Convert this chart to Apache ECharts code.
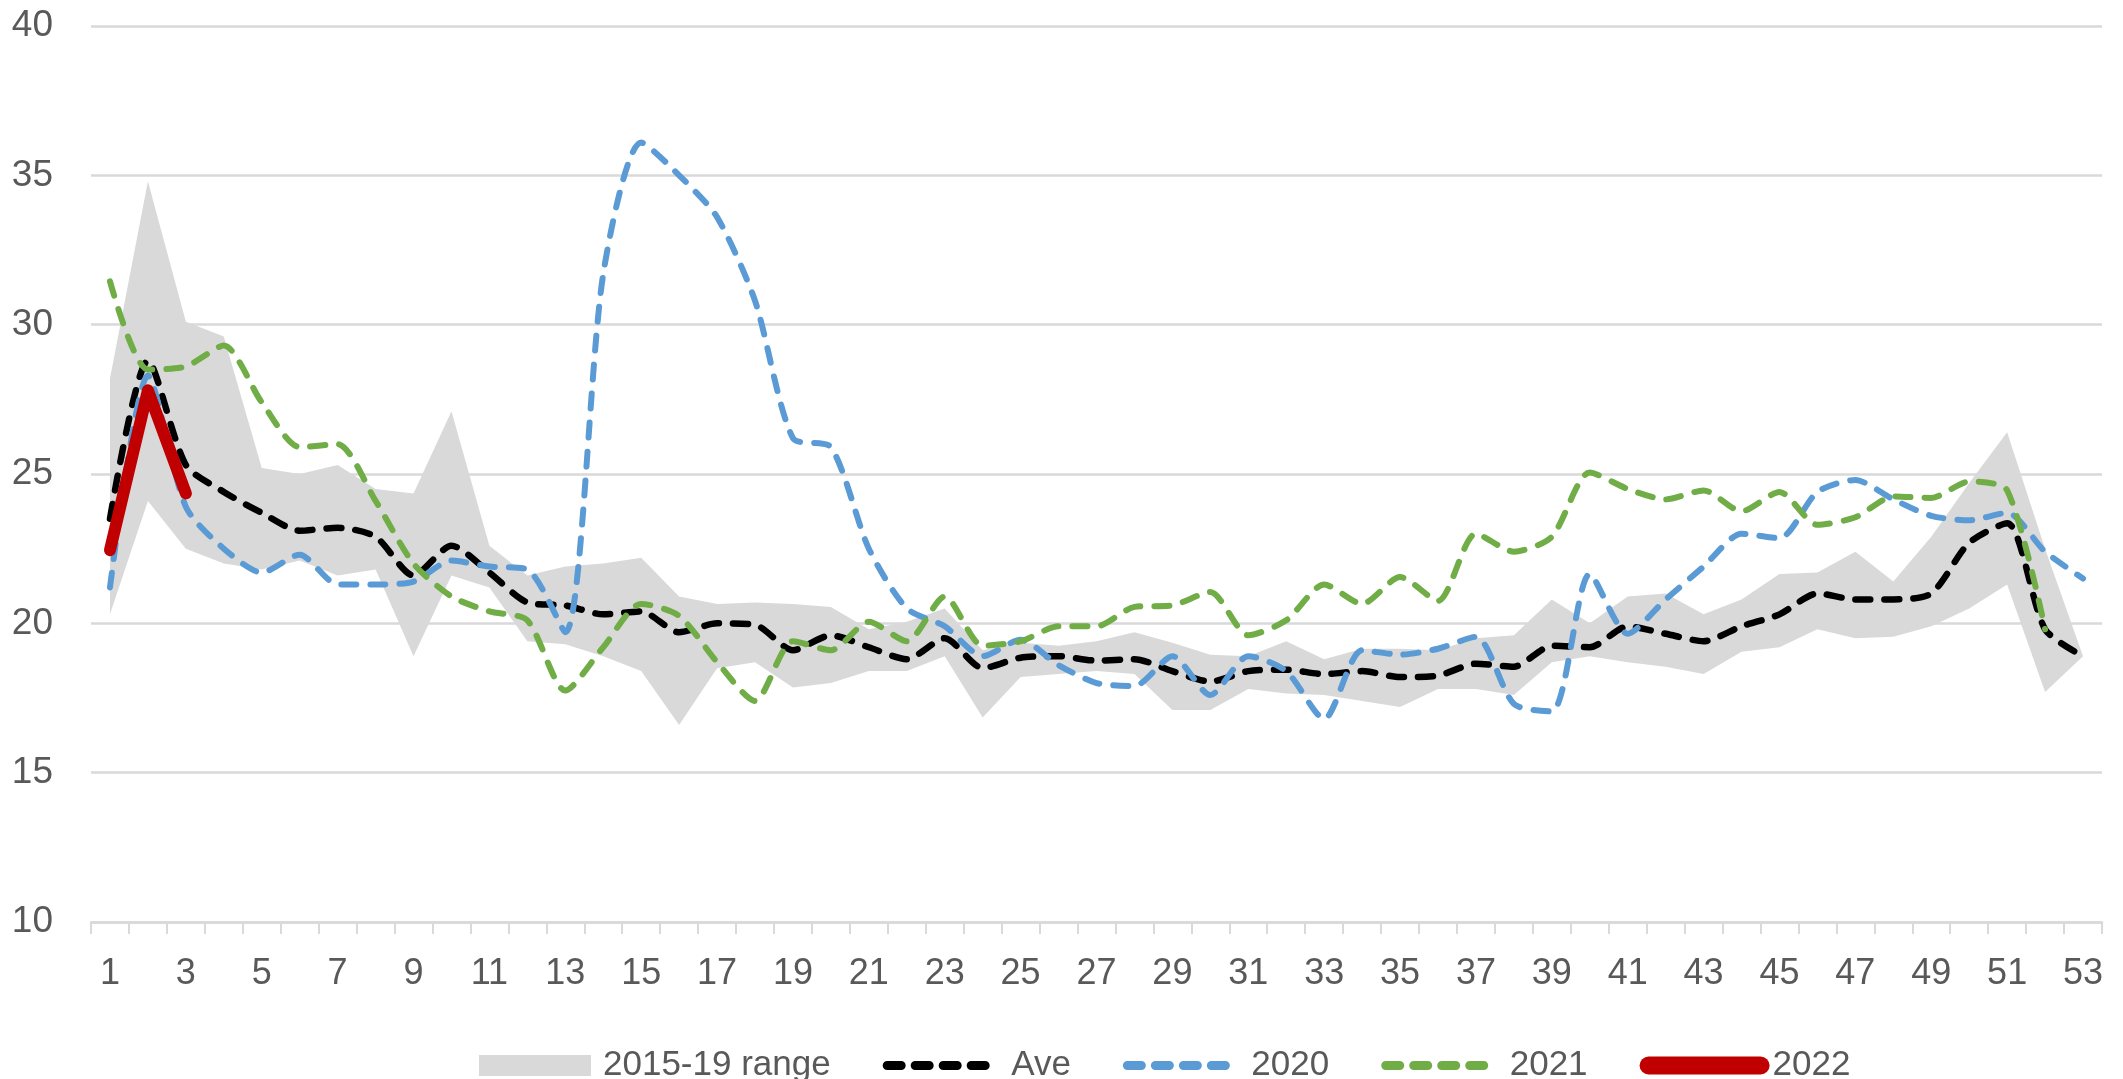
<!DOCTYPE html>
<html>
<head>
<meta charset="utf-8">
<script src="https://cdn.jsdelivr.net/npm/echarts@6/dist/echarts.min.js"></script>
<style>
html,body{margin:0;padding:0;background:#fff;}
#chart{width:2123px;height:1079px;}
</style>
</head>
<body>
<div id="chart"></div>
<script>
var weeks = ['1','2','3','4','5','6','7','8','9','10','11','12','13','14','15','16','17','18','19','20','21','22','23','24','25','26','27','28','29','30','31','32','33','34','35','36','37','38','39','40','41','42','43','44','45','46','47','48','49','50','51','52','53'];

var rangeLow = [20.3,24.1,22.5,22.0,21.8,22.1,21.6,21.8,18.9,21.6,21.2,19.4,19.3,18.9,18.4,16.6,18.5,18.7,17.85,18.0,18.4,18.4,18.9,16.85,18.2,18.3,18.4,18.3,17.1,17.1,17.8,17.65,17.6,17.4,17.2,17.8,17.8,17.6,18.7,18.9,18.7,18.55,18.3,19.05,19.2,19.8,19.5,19.55,19.9,20.5,21.3,17.7,18.9];

var rangeHigh = [28.2,34.8,30.1,29.6,25.2,25.0,25.3,24.5,24.35,27.1,22.6,21.6,21.9,22.0,22.2,20.9,20.65,20.7,20.65,20.55,19.8,20.05,20.5,19.1,19.35,19.25,19.4,19.7,19.35,18.95,18.9,19.4,18.8,19.15,19.15,19.1,19.5,19.6,20.8,20.0,20.9,21.0,20.3,20.8,21.65,21.7,22.4,21.4,22.9,24.7,26.4,22.5,18.9];

var ave = [23.5,28.8,25.3,24.4,23.7,23.1,23.2,22.9,21.6,22.6,21.7,20.7,20.6,20.3,20.4,19.7,20.0,19.95,19.1,19.6,19.2,18.8,19.5,18.5,18.85,18.9,18.75,18.8,18.4,18.05,18.4,18.45,18.3,18.4,18.2,18.25,18.65,18.55,19.25,19.2,19.9,19.65,19.4,19.9,20.3,21.0,20.8,20.8,21.0,22.7,23.35,19.8,18.9];

var y2020 = [21.2,28.3,23.9,22.5,21.7,22.3,21.3,21.3,21.4,22.1,21.9,21.8,19.7,31.7,36.1,35.0,33.6,30.8,26.2,25.9,22.5,20.5,19.9,18.9,19.45,18.6,18.0,17.9,18.9,17.6,18.9,18.4,16.8,19.1,18.95,19.15,19.55,17.3,17.05,21.65,19.65,20.8,21.9,23.0,22.85,24.4,24.8,24.15,23.6,23.45,23.7,22.4,21.5];

var y2021 = [31.45,28.5,28.6,29.3,27.4,25.9,26.0,24.1,22.0,20.9,20.4,20.1,17.75,19.2,20.65,20.25,18.7,17.4,19.4,19.1,20.05,19.4,20.9,19.25,19.4,19.9,19.9,20.55,20.6,21.05,19.6,20.1,21.3,20.65,21.55,20.75,23.0,22.4,22.9,25.05,24.5,24.15,24.45,23.75,24.4,23.3,23.55,24.25,24.2,24.75,24.45,19.8,null];

var y2022 = [22.45,27.8,24.35];

var yTicks = {min:10, max:40, step:5};

var FONT = 'Liberation Sans';
var TXT = '#595959';
var GRID = '#d9d9d9';
var DASH = [15,14];

var rangeSpan = rangeHigh.map(function(v,i){ return +(v - rangeLow[i]).toFixed(3); });

var chart = echarts.init(document.getElementById('chart'), null, {renderer:'canvas'});
chart.setOption({
  animation:false,
  backgroundColor:'#ffffff',
  textStyle:{fontFamily:FONT},
  grid:{left:91, right:21, top:26, bottom:157, containLabel:false},
  xAxis:{
    type:'category',
    data:weeks,
    boundaryGap:true,
    axisLine:{show:true, lineStyle:{color:GRID, width:2.5}},
    axisTick:{show:true, interval:0, length:12, lineStyle:{color:GRID, width:2}},
    axisLabel:{interval:1, margin:34, color:TXT, fontSize:36, fontFamily:FONT},
    splitLine:{show:false}
  },
  yAxis:{
    type:'value',
    min:yTicks.min, max:yTicks.max, interval:yTicks.step,
    axisLine:{show:false},
    axisTick:{show:false},
    axisLabel:{margin:38, color:TXT, fontSize:37, fontFamily:FONT},
    splitLine:{show:true, lineStyle:{color:GRID, width:2.5}}
  },
  legend:{
    left:474, top:1043,
    itemWidth:112, itemHeight:21, itemGap:52,
    selectedMode:false,
    textStyle:{color:TXT, fontSize:35, fontFamily:FONT, padding:[0,0,0,7]},
    data:[
      {name:'2015-19 range', icon:'rect', itemStyle:{color:'#d9d9d9'}},
      {name:'Ave', itemStyle:{opacity:0}, lineStyle:{width:9, type:[14,14]}},
      {name:'2020', itemStyle:{opacity:0}, lineStyle:{width:9, type:[14,14]}},
      {name:'2021', itemStyle:{opacity:0}, lineStyle:{width:9, type:[14,14]}},
      {name:'2022', itemStyle:{opacity:0}, lineStyle:{width:18}}
    ]
  },
  series:[
    {
      name:'bandBase', type:'line', data:rangeLow, stack:'range',
      symbol:'none', silent:true, lineStyle:{opacity:0, width:0}, z:1
    },
    {
      name:'2015-19 range', type:'line', data:rangeSpan, stack:'range',
      symbol:'none', silent:true, itemStyle:{color:'#d9d9d9'},
      lineStyle:{opacity:0, width:0},
      areaStyle:{color:'#d9d9d9', opacity:1}, z:1
    },
    {
      name:'Ave', type:'line', data:ave, symbol:'none', smooth:0.25,
      itemStyle:{color:'#000000'},
      lineStyle:{color:'#000000', width:6.5, type:DASH, cap:'round', join:'round'}, z:3
    },
    {
      name:'2020', type:'line', data:y2020, symbol:'none', smooth:0.25,
      itemStyle:{color:'#5b9bd5'},
      lineStyle:{color:'#5b9bd5', width:6, type:DASH, cap:'round', join:'round'}, z:4
    },
    {
      name:'2021', type:'line', data:y2021, symbol:'none', smooth:0.25,
      itemStyle:{color:'#70ad47'},
      lineStyle:{color:'#70ad47', width:6, type:DASH, cap:'round', join:'round'}, z:5
    },
    {
      name:'2022', type:'line', data:y2022, symbol:'none',
      itemStyle:{color:'#c00000'},
      lineStyle:{color:'#c00000', width:12, cap:'round', join:'round'}, z:6
    }
  ]
});
</script>
</body>
</html>
